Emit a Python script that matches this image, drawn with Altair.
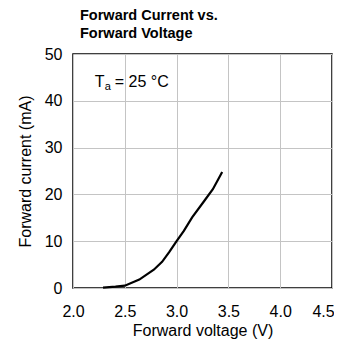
import altair as alt
import pandas as pd

voltage = [2.29, 2.41, 2.50, 2.64, 2.78, 2.86, 2.93, 3.00, 3.07, 3.15, 3.27, 3.35, 3.44]
current = [0.1, 0.3, 0.5, 1.8, 3.9, 5.6, 7.7, 10.0, 12.2, 15.1, 18.7, 21.1, 24.8]
x_ticks = [2.0, 2.5, 3.0, 3.5, 4.0, 4.5]
y_ticks = [0, 10, 20, 30, 40, 50]

df = pd.DataFrame({"v": voltage, "i": current})
ann = pd.DataFrame({"v": [2.21], "i": [42.9]})

FONT = "Liberation Sans"

xs = alt.Scale(domain=[2.0, 4.5], nice=False, zero=False)
ys = alt.Scale(domain=[0, 50], nice=False)

line = alt.Chart(df).mark_line(color="black", strokeWidth=2.2).encode(
    x=alt.X("v:Q", scale=xs, title="Forward voltage (V)",
            axis=alt.Axis(values=x_ticks, format=".1f", grid=True, gridColor="#c4c4c4",
                          gridWidth=1, ticks=False, domain=False, labelPadding=15,
                          labelFontSize=16, titleFontSize=16, titleFontWeight="normal",
                          labelColor="black", titleColor="black", labelFont=FONT,
                          titleFont=FONT, titlePadding=3, labelFlush=False,
                          labelOffset=alt.condition("datum.value == 4.5",
                                                    alt.value(-9), alt.value(0)))),
    y=alt.Y("i:Q", scale=ys, title="Forward current (mA)",
            axis=alt.Axis(values=y_ticks, grid=True, gridColor="#c4c4c4", gridWidth=1,
                          ticks=False, domain=False, labelPadding=11, labelFontSize=16,
                          titleFontSize=16, titleFontWeight="normal", labelColor="black",
                          titleColor="black", labelFont=FONT, titleFont=FONT,
                          titlePadding=11, labelFlush=False)),
)

base = alt.Chart(ann).encode(x=alt.X("v:Q", scale=xs), y=alt.Y("i:Q", scale=ys))
t1 = base.mark_text(text="T", align="left", baseline="alphabetic", fontSize=16,
                    font=FONT, color="black")
t2 = base.mark_text(text="a", align="left", baseline="alphabetic", fontSize=11,
                    font=FONT, color="black", dx=10, dy=3)
t3 = base.mark_text(text="= 25 °C", align="left", baseline="alphabetic", fontSize=16,
                    font=FONT, color="black", dx=20)

chart = alt.layer(line, t1, t2, t3).properties(
    width=259, height=234,
    autosize=alt.AutoSizeParams(type="none"),
    padding={"left": 65, "top": 46, "right": 2, "bottom": 53},
    title=alt.TitleParams(["Forward Current vs.", "Forward Voltage"], anchor="start",
                          frame="group", font=FONT, fontSize=14.5, fontWeight="bold",
                          color="black", lineHeight=18, offset=5, dx=7),
).configure_view(stroke="black", strokeWidth=1.5)

chart.save("out.html", embed_options={"renderer": "svg", "actions": False})
